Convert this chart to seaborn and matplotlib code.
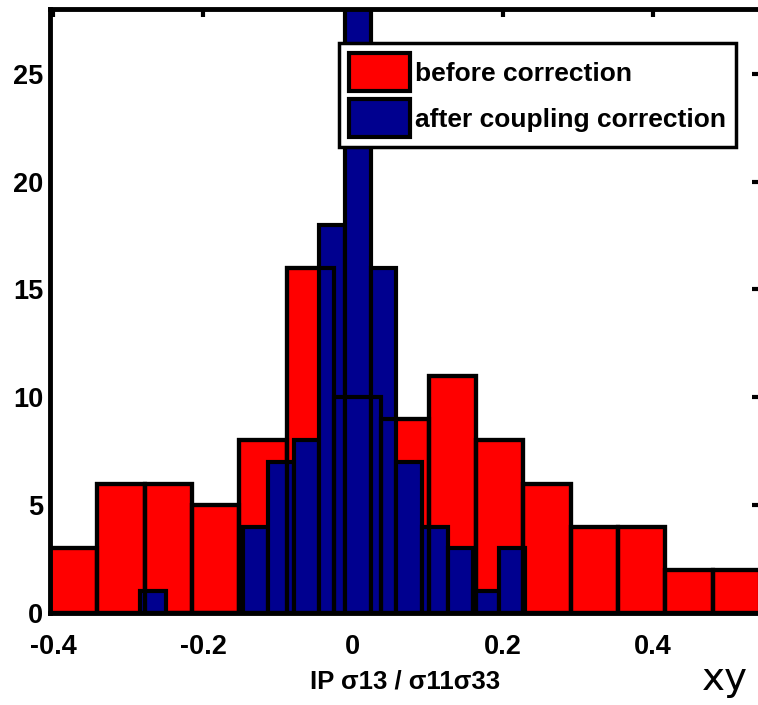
import numpy as np
import pandas as pd
import matplotlib
matplotlib.use("Agg")
from matplotlib import pyplot as plt
from matplotlib.patches import Patch
import seaborn as sns

# histogram counts (15 bins each, like MATLAB hist)
before_counts = [3, 6, 6, 5, 8, 16, 10, 9, 11, 8, 6, 4, 4, 2, 2]
after_counts = [1, 0, 0, 0, 4, 7, 8, 18, 28, 16, 7, 4, 3, 1, 3]

# bin ranges (left edge of first bin, right edge of last bin)
before_range = (-0.404, 0.543)
after_range = (-0.284, 0.229)

legend_labels = ["before correction", "after coupling correction"]
xlabel = "IP \u03c313 / \u03c311\u03c333"
xticks = [-0.4, -0.2, 0, 0.2, 0.4]
xtick_labels = ["-0.4", "-0.2", "0", "0.2", "0.4"]
yticks = [0, 5, 10, 15, 20, 25]

red = "#FF0000"
navy = "#00008F"

sns.set_theme(style="white")
plt.rcParams['font.family'] = ['Liberation Sans', 'DejaVu Sans']
plt.rcParams['font.weight'] = 'bold'
plt.rcParams['text.color'] = 'black'
plt.rcParams['axes.labelcolor'] = 'black'


def hist_frame(rng, counts):
    # one row per bin, centred in it, weighted by the count
    e = np.linspace(rng[0], rng[1], len(counts) + 1)
    return pd.DataFrame({"x": (e[:-1] + e[1:]) / 2, "n": counts})


fig = plt.figure(figsize=(7.58, 7.05), dpi=100)
ax = fig.add_axes([50 / 758, 1 - 613 / 705, 710 / 758, 604 / 705])

df_b = hist_frame(before_range, before_counts)
df_a = hist_frame(after_range, after_counts)
nb, na = len(before_counts), len(after_counts)

# faces first
sns.histplot(data=df_b, x="x", weights="n", bins=nb, binrange=before_range,
             ax=ax, color=red, alpha=1, edgecolor="black", linewidth=3)
sns.histplot(data=df_a, x="x", weights="n", bins=na, binrange=after_range,
             ax=ax, color=navy, alpha=1, edgecolor="black", linewidth=3)
# matlab draws the red outlines over everything
sns.histplot(data=df_b, x="x", weights="n", bins=nb, binrange=before_range,
             ax=ax, fill=False, element="bars", color="black", linewidth=3)

ax.set_xlim(before_range)
ax.set_ylim(0, 28)
ax.set_xticks(xticks)
ax.set_xticklabels(xtick_labels)
ax.set_yticks(yticks)
ax.set_ylabel("")
ax.set_xlabel(xlabel, fontsize=18.5, fontweight="bold", labelpad=7)

ax.tick_params(axis="both", direction="in", length=6, width=3, labelsize=19.5,
               top=True, right=True, colors="black")
ax.tick_params(axis="x", pad=15)
ax.tick_params(axis="y", pad=5)
for s in ax.spines.values():
    s.set_visible(True)
    s.set_linewidth(3.5)
    s.set_color("black")

handles = [Patch(facecolor=red, edgecolor="black", linewidth=3),
           Patch(facecolor=navy, edgecolor="black", linewidth=3)]
leg = ax.legend(handles=handles, labels=legend_labels, loc="upper left",
                bbox_to_anchor=(339 / 758, 1 - 43 / 705),
                bbox_transform=fig.transFigure,
                prop={"size": 19, "weight": "bold"},
                fancybox=False, framealpha=1, borderaxespad=0,
                borderpad=0.38, handlelength=2.3, handleheight=1.85,
                handletextpad=0.19, labelspacing=0.3)
leg.get_frame().set_edgecolor("black")
leg.get_frame().set_linewidth(2.5)

fig.text(702 / 758, 1 - 690 / 705, "xy", fontsize=28, family="DejaVu Sans",
         fontweight="normal", va="baseline", ha="left", color="black")

fig.savefig("out.png", dpi=100)
